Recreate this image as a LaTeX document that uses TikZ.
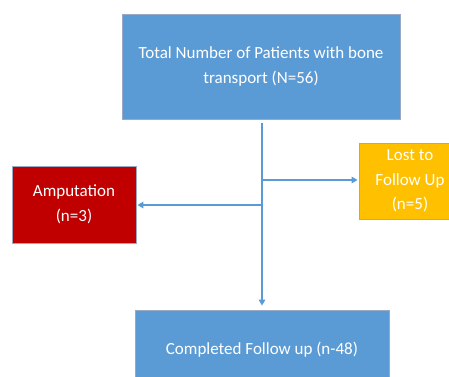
\documentclass[tikz,border=0pt]{standalone}
\usepackage{fontspec}
\setmainfont{Carlito}
\usetikzlibrary{arrows.meta}
\definecolor{boxblue}{HTML}{5B9BD5}
\definecolor{boxred}{HTML}{C00000}
\definecolor{boxgold}{HTML}{FFC000}
\definecolor{edgegray}{HTML}{9AAAC4}
\definecolor{linkblue}{HTML}{5B9BD5}
\tikzset{
  flowbox/.style={draw=edgegray, line width=0.8pt, minimum width=#1, align=center,
    text=white, inner sep=0pt, font=\fontsize{17}{24.5}\selectfont},
  link/.style={draw=linkblue, line width=2.2pt, -{Triangle[length=6pt,width=6.5pt]}}
}
\begin{document}
\begin{tikzpicture}[x=1pt,y=-1pt]
\useasboundingbox (0,0) rectangle (449,376);
\begin{scope}
\clip (0,0) rectangle (449,376);
\node[flowbox=278pt, fill=boxblue, minimum height=105pt] (top) at (261,66.5)
  {Total Number of Patients with bone\\transport (N=56)};
\node[flowbox=102pt, fill=boxgold, minimum height=76pt] (lost) at (410,181)
  {Lost to\\Follow Up\\(n=5)};
\node[flowbox=124pt, fill=boxred, minimum height=77pt] (amp) at (74,204.5)
  {Amputation\\(n=3)};
\node[flowbox=254pt, fill=boxblue, minimum height=80pt] (done) at (262,350)
  {Completed Follow up (n-48)};
\coordinate (vs) at (262,123);
\coordinate (jr) at (262,180);
\coordinate (jl) at (262,205);
\draw[link, shorten >=4pt] (vs) -- (vs |- done.north);
\draw[link, shorten >=1pt] (jr) -- (jr -| lost.west);
\draw[link, shorten >=1pt] (jl) -- (jl -| amp.east);
\end{scope}
\end{tikzpicture}
\end{document}
